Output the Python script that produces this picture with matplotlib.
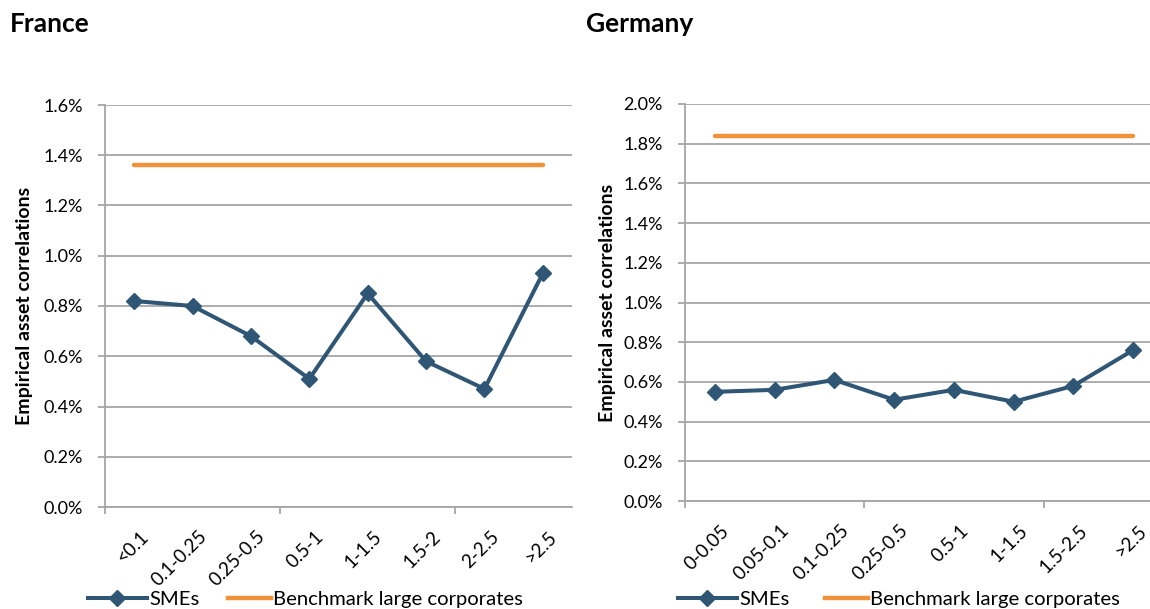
import matplotlib
matplotlib.use("Agg")
import matplotlib.pyplot as plt
from matplotlib.lines import Line2D
from matplotlib.ticker import FuncFormatter, FixedLocator
from matplotlib.transforms import ScaledTranslation

plt.rcParams['font.family'] = ['Lato', 'DejaVu Sans']

# Data (asset correlations in %)
france_cats = ["<0.1", "0.1-0.25", "0.25-0.5", "0.5-1", "1-1.5", "1.5-2", "2-2.5", ">2.5"]
france_smes = [0.82, 0.80, 0.68, 0.51, 0.85, 0.58, 0.47, 0.93]
france_bench = 1.36

germany_cats = ["0-0.05", "0.05-0.1", "0.1-0.25", "0.25-0.5", "0.5-1", "1-1.5", "1.5-2.5", ">2.5"]
germany_smes = [0.55, 0.56, 0.61, 0.51, 0.56, 0.50, 0.58, 0.76]
germany_bench = 1.84

SME_COLOR = "#2F5675"
BENCH_COLOR = "#F0923A"
GRID_COLOR = "#A6A6A6"
W, H = 1150, 609

fig = plt.figure(figsize=(W / 100, H / 100), dpi=100)


def draw_panel(rect, cats, smes, bench, ymax, title, title_x, ylabel_x, legend_xs):
    ax = fig.add_axes(rect)
    n = len(cats)
    xs = list(range(n))
    ax.plot(xs, [bench] * n, color=BENCH_COLOR, lw=3.2, solid_capstyle='round', zorder=3)
    ax.plot(xs, smes, color=SME_COLOR, lw=2.9, marker='D', markersize=8.5,
            markerfacecolor=SME_COLOR, markeredgecolor=SME_COLOR, zorder=4)

    ax.set_xlim(-0.5, n - 0.5)
    ax.set_ylim(0, ymax)
    ax.set_yticks([i * 0.2 for i in range(int(round(ymax / 0.2)) + 1)])
    ax.yaxis.set_major_formatter(FuncFormatter(lambda v, p: f"{v:.1f}%"))
    ax.grid(axis='y', color=GRID_COLOR, lw=1.3, zorder=0)
    ax.set_axisbelow(True)

    # category labels at the points, tick marks every 1.5 categories
    ax.set_xticks(xs)
    ax.set_xticklabels(cats, rotation=45, ha='right', va='top', rotation_mode='anchor')
    ax.tick_params(axis='x', which='major', length=0, pad=15, labelsize=13.5)
    shift = ScaledTranslation(4 / 72, 0, fig.dpi_scale_trans)
    for lab in ax.get_xticklabels():
        lab.set_transform(lab.get_transform() + shift)
    ax.xaxis.set_minor_locator(FixedLocator([-0.5 + 1.5 * k for k in range(6)]))
    ax.tick_params(axis='x', which='minor', length=5, width=1.3, color=GRID_COLOR, direction='out')
    ax.tick_params(axis='y', length=5, width=1.3, color=GRID_COLOR, labelsize=13, pad=11)

    for s in ('top', 'right'):
        ax.spines[s].set_visible(False)
    for s in ('left', 'bottom'):
        ax.spines[s].set_color(GRID_COLOR)
        ax.spines[s].set_linewidth(1.3)

    ax.set_ylabel("Empirical asset correlations", fontsize=14, fontweight='bold')
    ax.yaxis.label.set_va('center')
    ax.yaxis.set_label_coords(ylabel_x, 0.5)

    fig.text(title_x, 1 - 24 / H, title, fontsize=19, fontweight='bold', va='center', ha='left')

    entries = [
        (Line2D([], [], color=SME_COLOR, lw=2.9, marker='D', markersize=8.5), "SMEs", 2.9),
        (Line2D([], [], color=BENCH_COLOR, lw=3.2), "Benchmark large corporates", 2.1),
    ]
    for (handle, text, hl), lx in zip(entries, legend_xs):
        fig.legend([handle], [text], loc='center left',
                   bbox_to_anchor=(lx / W, 1 - 599 / H), frameon=False,
                   fontsize=14.6, handlelength=hl, handletextpad=0.12,
                   borderpad=0, borderaxespad=0)
    return ax


draw_panel([105 / W, 102 / H, 467 / W, 402 / H], france_cats, france_smes,
           france_bench, 1.6, "France", 10 / W, -80 / 467, (88, 228))
draw_panel([685 / W, 108 / H, 478 / W, 397 / H], germany_cats, germany_smes,
           germany_bench, 2.0, "Germany", 586 / W, -78 / 478, (678, 825))

fig.savefig("out.png", dpi=100)
